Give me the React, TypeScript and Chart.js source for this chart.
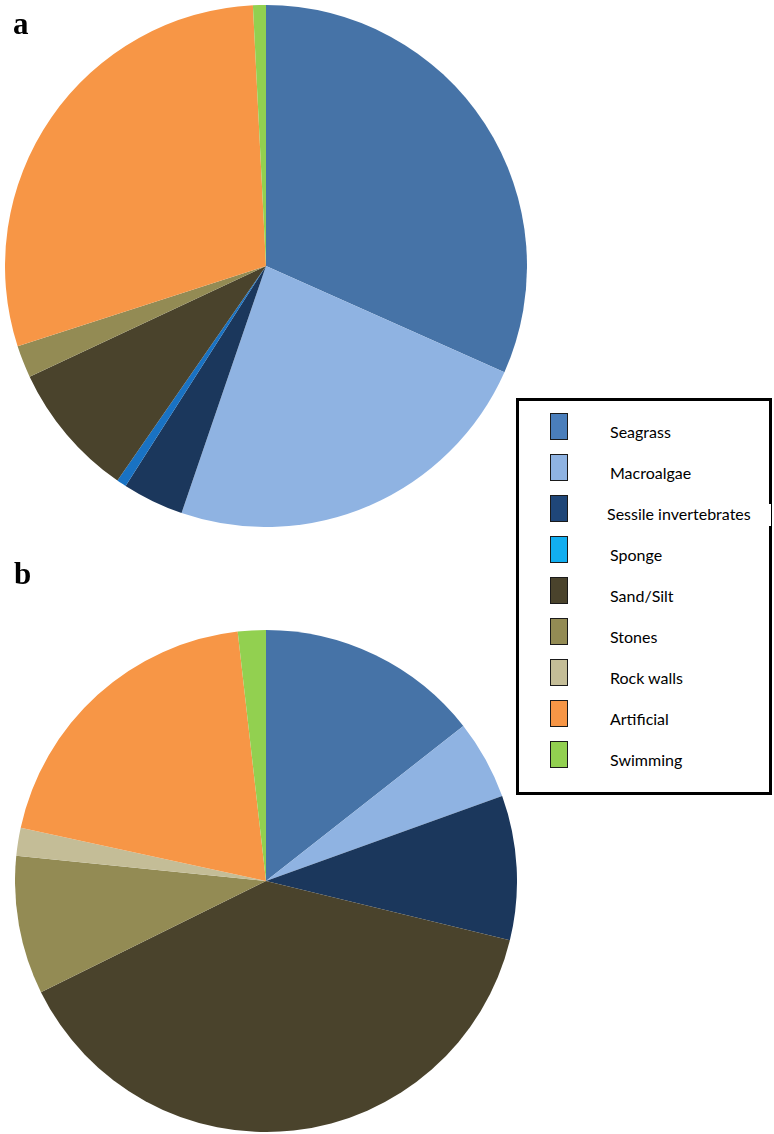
import React, { useEffect, useRef } from "react";
import { Chart, registerables } from "chart.js";

Chart.register(...registerables);

const categories = [
  "Seagrass",
  "Macroalgae",
  "Sessile invertebrates",
  "Sponge",
  "Sand/Silt",
  "Stones",
  "Rock walls",
  "Artificial",
  "Swimming",
];

// percentages
const valuesA = [31.7, 23.6, 3.8, 0.6, 8.4, 2.0, 0, 29.2, 0.8];
const valuesB = [14.4, 5.1, 9.3, 0, 38.9, 8.9, 1.8, 19.8, 1.8];

const sliceColors = [
  "#4673a7",
  "#8fb3e2",
  "#1b375c",
  "#1972c3",
  "#4a432c",
  "#938b54",
  "#c4bd97",
  "#f79646",
  "#92d050",
];
const legendColors = [
  "#4a7ebb",
  "#8fb3e2",
  "#1f4678",
  "#12aef0",
  "#4a432c",
  "#938b54",
  "#c4bd97",
  "#f79646",
  "#92d050",
];

function PieChart({ values, size }: { values: number[]; size: number }) {
  const ref = useRef<HTMLCanvasElement | null>(null);
  useEffect(() => {
    if (!ref.current) return;
    const chart = new Chart(ref.current, {
      type: "pie",
      data: {
        labels: categories,
        datasets: [
          {
            data: values,
            backgroundColor: sliceColors,
            borderWidth: 0,
            hoverOffset: 0,
            offset: 0,
          },
        ],
      },
      options: {
        responsive: false,
        animation: false,
        devicePixelRatio: 1,
        layout: { padding: 0 },
        plugins: { legend: { display: false }, tooltip: { enabled: false } },
      },
    });
    return () => chart.destroy();
  }, [values, size]);
  return <canvas ref={ref} width={size} height={size} style={{ width: size, height: size, display: "block" }} />;
}

export default function App() {
  const legendTop = 398;
  const step = 41;
  return (
    <div style={{ position: "absolute", left: 0, top: 0, width: 774, height: 1134, background: "#fff", overflow: "hidden" }}>
      <div style={{ position: "absolute", left: 5, top: 5 }}>
        <PieChart values={valuesA} size={522} />
      </div>
      <div style={{ position: "absolute", left: 15, top: 630 }}>
        <PieChart values={valuesB} size={502} />
      </div>
      <div style={{ position: "absolute", left: 13, top: 6, font: "bold 31px 'Liberation Serif', serif", color: "#000" }}>a</div>
      <div style={{ position: "absolute", left: 14, top: 556, font: "bold 31px 'Liberation Serif', serif", color: "#000" }}>b</div>
      <div
        style={{
          position: "absolute",
          left: 516,
          top: legendTop,
          width: 250,
          height: 391,
          border: "3px solid #000",
          background: "#fff",
        }}
      />
      {categories.map((c, i) => (
        <React.Fragment key={c}>
          <div
            style={{
              position: "absolute",
              left: 550,
              top: 413 + i * step,
              width: 16,
              height: 25,
              background: legendColors[i],
              border: "1.5px solid #1a1a1a",
            }}
          />
          <div
            style={{
              position: "absolute",
              left: i === 2 ? 607 : 610,
              top: 422 + i * step,
              height: 22,
              lineHeight: "22px",
              paddingRight: i === 2 ? 20 : 0,
              background: i === 2 ? "#fff" : "transparent",
              font: "16px Lato, 'Open Sans', sans-serif",
              color: "#000",
              whiteSpace: "nowrap",
            }}
          >
            {c}
          </div>
        </React.Fragment>
      ))}
    </div>
  );
}
